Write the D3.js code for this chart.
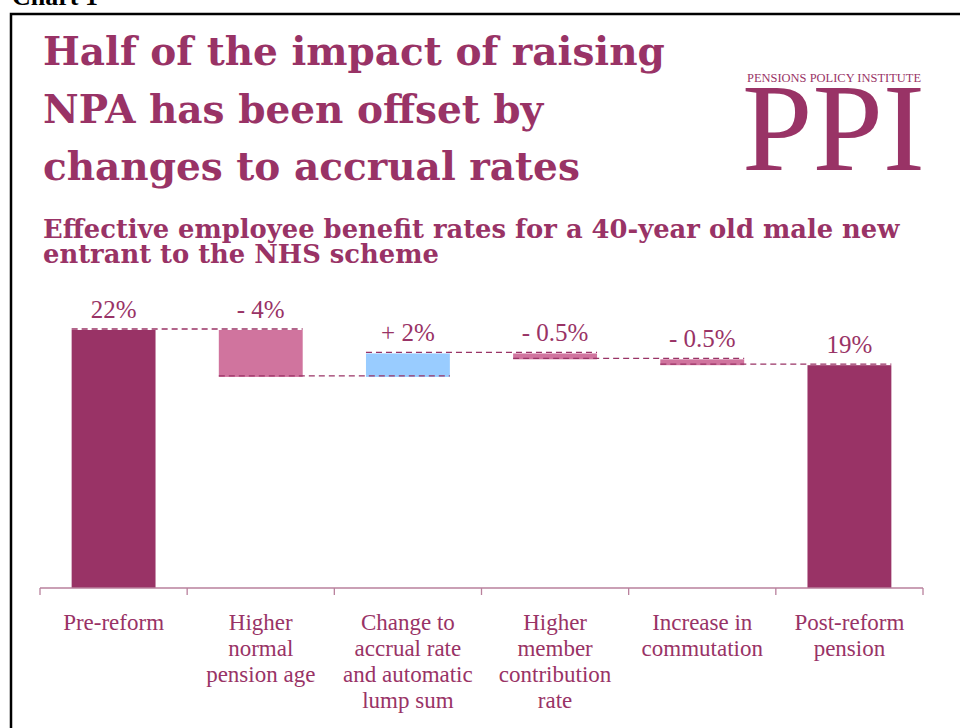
<!DOCTYPE html>
<html>
<head>
<meta charset="utf-8">
<script src="https://cdn.jsdelivr.net/npm/d3@7"></script>
<style>
  html, body { margin: 0; padding: 0; background: #fff; }
  svg { display: block; }
</style>
</head>
<body>
<script>
// Waterfall steps from the pre-reform to the post-reform benefit rate (%)
const categories = [
  "Pre-reform",
  "Higher\nnormal\npension age",
  "Change to\naccrual rate\nand automatic\nlump sum",
  "Higher\nmember\ncontribution\nrate",
  "Increase in\ncommutation",
  "Post-reform\npension"
];
const values = [22, -4, 2, -0.5, -0.5, 19];
const isTotal = [true, false, false, false, false, true];

const titleLines = [
  "Half of the impact of raising",
  "NPA has been offset by",
  "changes to accrual rates"
];
const subtitleLines = [
  "Effective employee benefit rates for a 40-year old male new",
  "entrant to the NHS scheme"
];

const W = 960, H = 728;
const maroon = "#993366";
const pink = "#D0749E";
const blue = "#99CCFF";
const axisColor = "#B9819D";
const serif = "'Liberation Serif', 'Times New Roman', serif";
const headSerif = "'DejaVu Serif', serif";

const svg = d3.select("body").append("svg")
  .attr("width", W).attr("height", H);

// Page header and frame
svg.append("text")
  .attr("x", 12).attr("y", 5)
  .attr("font-family", serif).attr("font-weight", "bold")
  .attr("font-size", 26).attr("fill", "#000")
  .text("Chart 1");
svg.append("path")
  .attr("d", `M11,${H} L11,14 L${W},14`)
  .attr("fill", "none").attr("stroke", "#000").attr("stroke-width", 2.5);

// Title
svg.append("g").selectAll("text").data(titleLines).join("text")
  .attr("x", 43).attr("y", (d, i) => 65 + i * 57.5)
  .attr("font-family", headSerif).attr("font-weight", "bold")
  .attr("font-size", 39).attr("fill", maroon)
  .text(d => d);

// Subtitle
svg.append("g").selectAll("text").data(subtitleLines).join("text")
  .attr("x", 43).attr("y", (d, i) => 238 + i * 25)
  .attr("font-family", headSerif).attr("font-weight", "bold")
  .attr("font-size", 25.8).attr("fill", maroon)
  .text(d => d);

// Logo
svg.append("text")
  .attr("x", 747).attr("y", 82)
  .attr("font-family", serif).attr("font-size", 12)
  .attr("fill", maroon)
  .attr("textLength", 174).attr("lengthAdjust", "spacingAndGlyphs")
  .text("PENSIONS POLICY INSTITUTE");
svg.append("text")
  .attr("x", 742).attr("y", 170)
  .attr("font-family", serif).attr("font-size", 124)
  .attr("fill", maroon)
  .attr("textLength", 183).attr("lengthAdjust", "spacingAndGlyphs")
  .text("PPI");

// Scales
const x = d3.scaleBand()
  .domain(categories)
  .range([40, 923])
  .paddingInner(0.43)
  .paddingOuter(0.215);
const y = d3.scaleLinear().domain([0, 22]).range([588, 330]);

// Running totals for the waterfall
let running = 0;
const steps = values.map((v, i) => {
  let start, end;
  if (isTotal[i]) { start = 0; end = v; running = v; }
  else { start = running; end = running + v; running = end; }
  return { cat: categories[i], v, start, end, total: isTotal[i] };
});

const fmt = s => s.total ? `${s.v}%` : `${s.v < 0 ? "- " : "+ "}${Math.abs(s.v)}%`;
const colour = s => s.total ? maroon : (s.v < 0 ? pink : blue);

// Bars
svg.append("g").selectAll("rect").data(steps).join("rect")
  .attr("x", d => x(d.cat))
  .attr("width", x.bandwidth())
  .attr("y", d => y(Math.max(d.start, d.end)))
  .attr("height", d => Math.abs(y(d.start) - y(d.end)))
  .attr("fill", colour);

// Dashed connectors between consecutive steps
const links = steps.slice(0, -1).map((s, i) => ({
  level: s.end,
  x1: x(s.cat),
  x2: x(steps[i + 1].cat) + x.bandwidth()
}));
svg.append("g").selectAll("line").data(links).join("line")
  .attr("x1", d => d.x1).attr("x2", d => d.x2)
  .attr("y1", d => y(d.level) - 1).attr("y2", d => y(d.level) - 1)
  .attr("stroke", maroon).attr("stroke-width", 1.3)
  .attr("stroke-dasharray", "6,4");

// Value labels
svg.append("g").selectAll("text").data(steps).join("text")
  .attr("x", d => x(d.cat) + x.bandwidth() / 2)
  .attr("y", d => y(Math.max(d.start, d.end)) - 12)
  .attr("text-anchor", "middle")
  .attr("font-family", serif).attr("font-size", 25)
  .attr("fill", maroon)
  .text(fmt);

// Category axis
const axis = svg.append("g").attr("transform", `translate(0,${y(0)})`);
axis.append("line")
  .attr("x1", 40).attr("x2", 923)
  .attr("stroke", axisColor).attr("stroke-width", 1.3);
const bounds = categories.map(c => x(c) - x.step() * x.paddingInner() / 2)
  .map((b, i) => i === 0 ? 40 : b).concat([923]);
axis.selectAll("line.tick").data(bounds).join("line")
  .attr("class", "tick")
  .attr("x1", d => d).attr("x2", d => d)
  .attr("y1", 0).attr("y2", 7)
  .attr("stroke", axisColor).attr("stroke-width", 1.3);

const lab = svg.append("g").selectAll("text").data(categories).join("text")
  .attr("x", d => x(d) + x.bandwidth() / 2)
  .attr("y", 630)
  .attr("text-anchor", "middle")
  .attr("font-family", serif).attr("font-size", 23)
  .attr("fill", maroon);
lab.selectAll("tspan").data(d => d.split("\n")).join("tspan")
  .attr("x", function () { return d3.select(this.parentNode).attr("x"); })
  .attr("dy", (d, i) => i === 0 ? 0 : 26)
  .text(d => d);
</script>
</body>
</html>
